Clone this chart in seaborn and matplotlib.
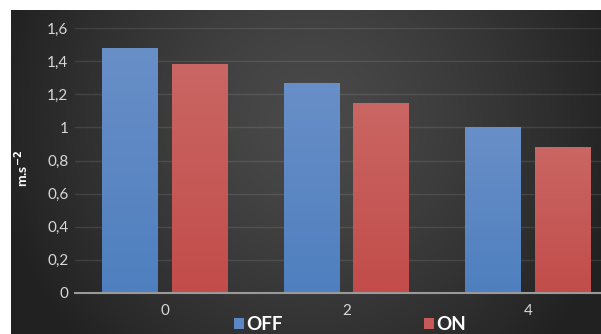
import numpy as np
import pandas as pd
import matplotlib
matplotlib.use("Agg")
import matplotlib.pyplot as plt
from matplotlib.patches import Patch
import seaborn as sns

# Data
speeds = ["0", "2", "4"]
off_vals = [1.48, 1.27, 1.00]
on_vals = [1.38, 1.15, 0.88]
modes = ["OFF", "ON"]
y_ticks = [0, 0.2, 0.4, 0.6, 0.8, 1.0, 1.2, 1.4, 1.6]
y_tick_labels = ["0", "0,2", "0,4", "0,6", "0,8", "1", "1,2", "1,4", "1,6"]

df = pd.DataFrame({
    "speed": speeds * 2,
    "value": off_vals + on_vals,
    "mode": [modes[0]] * len(speeds) + [modes[1]] * len(speeds),
})

sns.set_theme(style="dark")
plt.rcParams["font.family"] = ["Lato", "DejaVu Sans"]

W, H = 601, 334
fig = plt.figure(figsize=(W / 100, H / 100), dpi=100)
fig.patch.set_facecolor("white")

# Dark radial-gradient backdrop
bg = fig.add_axes([11 / W, 0, (W - 11) / W, (H - 10) / H], zorder=0)
ny, nx = 324, 590
yy, xx = np.mgrid[0:ny, 0:nx]
cx, cy = 300, 110
r = np.sqrt(((xx - cx) / 320.0) ** 2 + ((yy - cy) / 330.0) ** 2)
r = np.clip(r, 0, 1)
lum = 0.29 - 0.16 * r ** 1.3
img = np.dstack([lum, lum, lum])
bg.imshow(img, aspect="auto", interpolation="bilinear", extent=[0, 1, 0, 1])
bg.set_axis_off()

# Main chart axes
left = 74.5 / W
right = 618.5 / W
bottom = 1 - 293 / H
top = 1 - 28 / H
ax = fig.add_axes([left, bottom, right - left, top - bottom], zorder=1)
ax.set_facecolor("none")

palette = {"OFF": "#5b87c4", "ON": "#c65a58"}
sns.barplot(data=df, x="speed", y="value", hue="mode", palette=palette,
            width=0.77, gap=0.2, ax=ax, legend=False, saturation=1,
            linewidth=0, zorder=3)

# Vertical shading inside each bar
grad_colors = {
    "OFF": ((0.41, 0.56, 0.78), (0.31, 0.50, 0.75)),
    "ON": ((0.79, 0.40, 0.39), (0.76, 0.30, 0.29)),
}
for mode, cont in zip(modes, ax.containers):
    top_c, bot_c = grad_colors[mode]
    t = np.linspace(0, 1, 64)[:, None]
    col = np.array(top_c) * (1 - t) + np.array(bot_c) * t
    gimg = col[:, None, :].repeat(2, axis=1)
    for bar in cont:
        x0, w = bar.get_x(), bar.get_width()
        h = bar.get_height()
        im = ax.imshow(gimg, extent=[x0, x0 + w, 0, h], aspect="auto",
                       zorder=3.5, interpolation="bilinear")
        im.set_clip_path(bar)

ax.set_xlim(-0.5, 2.5)
ax.set_ylim(0, 1.6)
ax.set_yticks(y_ticks)
ax.set_yticklabels(y_tick_labels)
ax.grid(axis="y", color="white", alpha=0.10, linewidth=1.0, zorder=0)
ax.grid(axis="x", visible=False)
for s in ["left", "right", "top"]:
    ax.spines[s].set_visible(False)
ax.spines["bottom"].set_visible(True)
ax.spines["bottom"].set_color("#9a9a9a")
ax.spines["bottom"].set_linewidth(1.5)
ax.spines["bottom"].set_zorder(5)
ax.tick_params(axis="y", length=0, pad=4.5, labelsize=11, labelcolor="#d8d8d8")
ax.tick_params(axis="x", length=0, pad=8, labelsize=11, labelcolor="#d8d8d8")
ax.set_xlabel("")
ax.set_ylabel("")

fig.text(22 / W, 1 - 168 / H, "m.s$^{\\mathbf{-2}}$", rotation=90, color="white",
         fontsize=10, fontweight="bold", ha="center", va="center")

handles = [Patch(facecolor=palette[m], edgecolor="none") for m in modes]
fig.legend(handles, modes, loc="upper left", bbox_to_anchor=(234 / W, 1 - 316 / H),
           ncol=2, frameon=False, handlelength=0.55,
           handleheight=0.55, handletextpad=0.12, columnspacing=7.5,
           borderpad=0, borderaxespad=0,
           prop={"weight": "bold", "size": 13.5})
for txt in fig.legends[0].get_texts():
    txt.set_color("white")

fig.savefig("out.png", dpi=100)
